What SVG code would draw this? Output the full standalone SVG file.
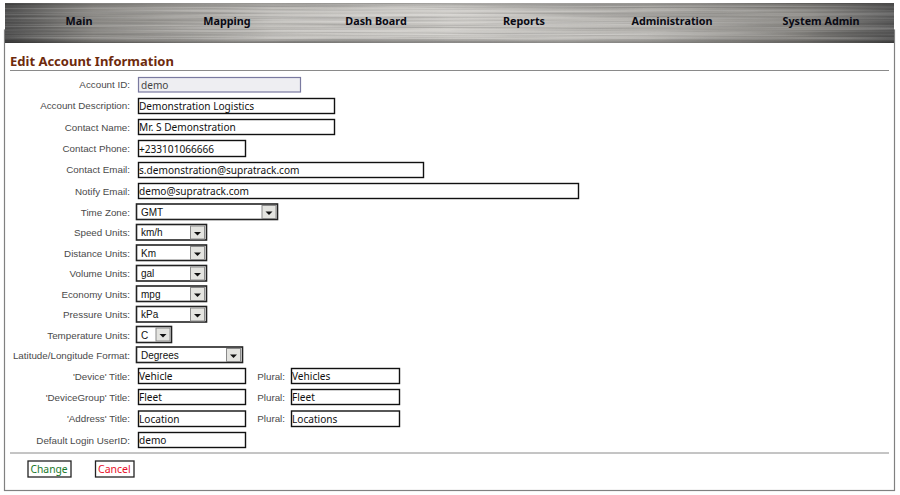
<svg xmlns="http://www.w3.org/2000/svg" width="900" height="495" viewBox="0 0 900 495">
<defs>
<linearGradient id="metal" x1="0" y1="0" x2="1" y2="0">
<stop offset="0" stop-color="#4e4e4e"/><stop offset="0.1" stop-color="#8e8c88"/><stop offset="0.3" stop-color="#c4c2be"/><stop offset="0.5" stop-color="#d2d0cc"/><stop offset="0.72" stop-color="#b8b6b2"/><stop offset="0.9" stop-color="#8a8884"/><stop offset="1" stop-color="#585858"/>
</linearGradient>
<linearGradient id="shade" x1="0" y1="0" x2="0" y2="1">
<stop offset="0" stop-color="#000" stop-opacity="0.2"/><stop offset="0.15" stop-color="#000" stop-opacity="0"/><stop offset="0.88" stop-color="#000" stop-opacity="0"/><stop offset="1" stop-color="#000" stop-opacity="0.35"/>
</linearGradient>
<filter id="brush" x="0" y="0" width="1" height="1">
<feTurbulence type="fractalNoise" baseFrequency="0.004 0.55" numOctaves="3" seed="4"/>
<feColorMatrix values="0 0 0 0 0  0 0 0 0 0  0 0 0 0 0  1.4 0 0 0 -0.55"/>
</filter>
<filter id="brushL" x="0" y="0" width="1" height="1">
<feTurbulence type="fractalNoise" baseFrequency="0.004 0.5" numOctaves="3" seed="11"/>
<feColorMatrix values="0 0 0 0 1  0 0 0 0 1  0 0 0 0 1  1.4 0 0 0 -0.55"/>
</filter>
<g id="arrow"><rect x="0" y="0" width="14" height="13" fill="#e4e4e0" stroke="#8a8a8a" stroke-width="1"/><path d="M3.500 6h7l-3.500 3.500z" fill="#111"/></g>
</defs>
<style>
text{font-family:"Noto Sans","Liberation Sans",sans-serif}
.nav{font-size:10.800px;font-weight:700;fill:#0a0a14;text-anchor:middle}
.lab{font-family:"Liberation Sans",sans-serif;font-size:9.800px;fill:#4a4a4a;text-anchor:end}
.val{font-size:10.100px;fill:#111}
.inp{fill:#fff;stroke:#111;stroke-width:1.4}
.sel{fill:#fff;stroke:#222;stroke-width:1.6}
.sv{font-family:"Liberation Sans",sans-serif;font-size:10px;fill:#111}
.rule{stroke:#8a8a8a;stroke-width:1}
</style>
<rect width="900" height="495" fill="#fff"/>
<g id="panel"><rect x="4.500" y="30" width="890" height="460.500" fill="#fff" stroke="#808080" stroke-width="1.2"/></g>
<g id="navbar">
<rect x="5" y="3" width="889" height="40" fill="url(#metal)"/>
<rect x="5" y="3" width="889" height="40" filter="url(#brush)" opacity="0.3"/>
<rect x="5" y="3" width="889" height="40" filter="url(#brushL)" opacity="0.3"/>
<rect x="5" y="3" width="889" height="40" fill="url(#shade)"/>
<text class="nav" x="79" y="25">Main</text>
<text class="nav" x="227" y="25">Mapping</text>
<text class="nav" x="376" y="25">Dash Board</text>
<text class="nav" x="524" y="25">Reports</text>
<text class="nav" x="672" y="25">Administration</text>
<text class="nav" x="821" y="25">System Admin</text>
</g>
<g id="heading">
<text x="10" y="66" font-size="13" font-weight="700" fill="#6e2a0c">Edit Account Information</text>
<line class="rule" x1="10" y1="70.500" x2="889" y2="70.500"/>
</g>
<g id="labels">
<text class="lab" x="130" y="88">Account ID:</text>
<text class="lab" x="130" y="109">Account Description:</text>
<text class="lab" x="130" y="131">Contact Name:</text>
<text class="lab" x="130" y="152">Contact Phone:</text>
<text class="lab" x="130" y="173">Contact Email:</text>
<text class="lab" x="130" y="195">Notify Email:</text>
<text class="lab" x="130" y="216">Time Zone:</text>
<text class="lab" x="130" y="236">Speed Units:</text>
<text class="lab" x="130" y="257">Distance Units:</text>
<text class="lab" x="130" y="277">Volume Units:</text>
<text class="lab" x="130" y="298">Economy Units:</text>
<text class="lab" x="130" y="318">Pressure Units:</text>
<text class="lab" x="130" y="339">Temperature Units:</text>
<text class="lab" x="130" y="359">Latitude/Longitude Format:</text>
<text class="lab" x="130" y="380">'Device' Title:</text>
<text class="lab" x="130" y="401">'DeviceGroup' Title:</text>
<text class="lab" x="130" y="422">'Address' Title:</text>
<text class="lab" x="130" y="444">Default Login UserID:</text>
<text class="lab" x="285" y="380">Plural:</text>
<text class="lab" x="285" y="401">Plural:</text>
<text class="lab" x="285" y="422">Plural:</text>
</g>
<g id="field-account-id"><rect x="138.500" y="77.500" width="162" height="14.500" fill="#eeeef2" stroke="#7a7aa0" stroke-width="1.2"/><text class="val" x="141" y="89" style="fill:#444">demo</text></g>
<g id="field-description"><rect class="inp" x="138.500" y="98.500" width="196" height="15"/><text class="val" x="139" y="110">Demonstration Logistics</text></g>
<g id="field-contact-name"><rect class="inp" x="138.500" y="119.500" width="196" height="15"/><text class="val" x="139" y="131">Mr. S Demonstration</text></g>
<g id="field-contact-phone"><rect class="inp" x="138.500" y="140.500" width="107" height="16"/><text class="val" x="139" y="153">+233101066666</text></g>
<g id="field-contact-email"><rect class="inp" x="138.500" y="162.500" width="285" height="15"/><text class="val" x="139" y="174">s.demonstration@supratrack.com</text></g>
<g id="field-notify-email"><rect class="inp" x="138.500" y="183.500" width="440" height="15"/><text class="val" x="139" y="195">demo@supratrack.com</text></g>
<g id="select-time-zone"><rect class="sel" x="136.500" y="204" width="141" height="15.500"/><text class="sv" x="141" y="216">GMT</text><use href="#arrow" x="262" y="205.500"/></g>
<g id="select-speed"><rect class="sel" x="136.500" y="224.500" width="70" height="15.500"/><text class="sv" x="141" y="236">km/h</text><use href="#arrow" x="190.500" y="226"/></g>
<g id="select-distance"><rect class="sel" x="136.500" y="245" width="70" height="15.500"/><text class="sv" x="141" y="257">Km</text><use href="#arrow" x="190.500" y="246.500"/></g>
<g id="select-volume"><rect class="sel" x="136.500" y="265.500" width="70" height="15.500"/><text class="sv" x="141" y="277">gal</text><use href="#arrow" x="190.500" y="267"/></g>
<g id="select-economy"><rect class="sel" x="136.500" y="286" width="70" height="15.500"/><text class="sv" x="141" y="298">mpg</text><use href="#arrow" x="190.500" y="287.500"/></g>
<g id="select-pressure"><rect class="sel" x="136.500" y="306.500" width="70" height="15.500"/><text class="sv" x="141" y="318">kPa</text><use href="#arrow" x="190.500" y="308"/></g>
<g id="select-temperature"><rect class="sel" x="136.500" y="326.500" width="35" height="16"/><text class="sv" x="141" y="339">C</text><use href="#arrow" x="156" y="328"/></g>
<g id="select-latlon"><rect class="sel" x="136.500" y="347" width="106" height="15.500"/><text class="sv" x="141" y="359">Degrees</text><use href="#arrow" x="226.500" y="348.500"/></g>
<g id="field-device"><rect class="inp" x="138.500" y="368.500" width="107" height="15"/><text class="val" x="139" y="380">Vehicle</text></g>
<g id="field-device-plural"><rect class="inp" x="291.500" y="368.500" width="108" height="15"/><text class="val" x="292" y="380">Vehicles</text></g>
<g id="field-group"><rect class="inp" x="138.500" y="389.500" width="107" height="15"/><text class="val" x="139" y="401">Fleet</text></g>
<g id="field-group-plural"><rect class="inp" x="291.500" y="389.500" width="108" height="15"/><text class="val" x="292" y="401">Fleet</text></g>
<g id="field-address"><rect class="inp" x="138.500" y="411" width="107" height="15.500"/><text class="val" x="139" y="423">Location</text></g>
<g id="field-address-plural"><rect class="inp" x="291.500" y="411" width="108" height="15.500"/><text class="val" x="292" y="423">Locations</text></g>
<g id="field-login"><rect class="inp" x="138.500" y="432.500" width="107" height="15"/><text class="val" x="139" y="444">demo</text></g>
<line class="rule" x1="10" y1="453" x2="889" y2="453"/>
<g id="button-change"><rect x="28" y="461" width="43" height="16" fill="#fff" stroke="#222" stroke-width="1.3"/><text x="30.500" y="473" font-size="10.300" fill="#1a7a2a">Change</text></g>
<g id="button-cancel"><rect x="95.500" y="461" width="38.500" height="16" fill="#fff" stroke="#222" stroke-width="1.3"/><text x="98" y="473" font-size="10.500" fill="#e8102a">Cancel</text></g>
</svg>
